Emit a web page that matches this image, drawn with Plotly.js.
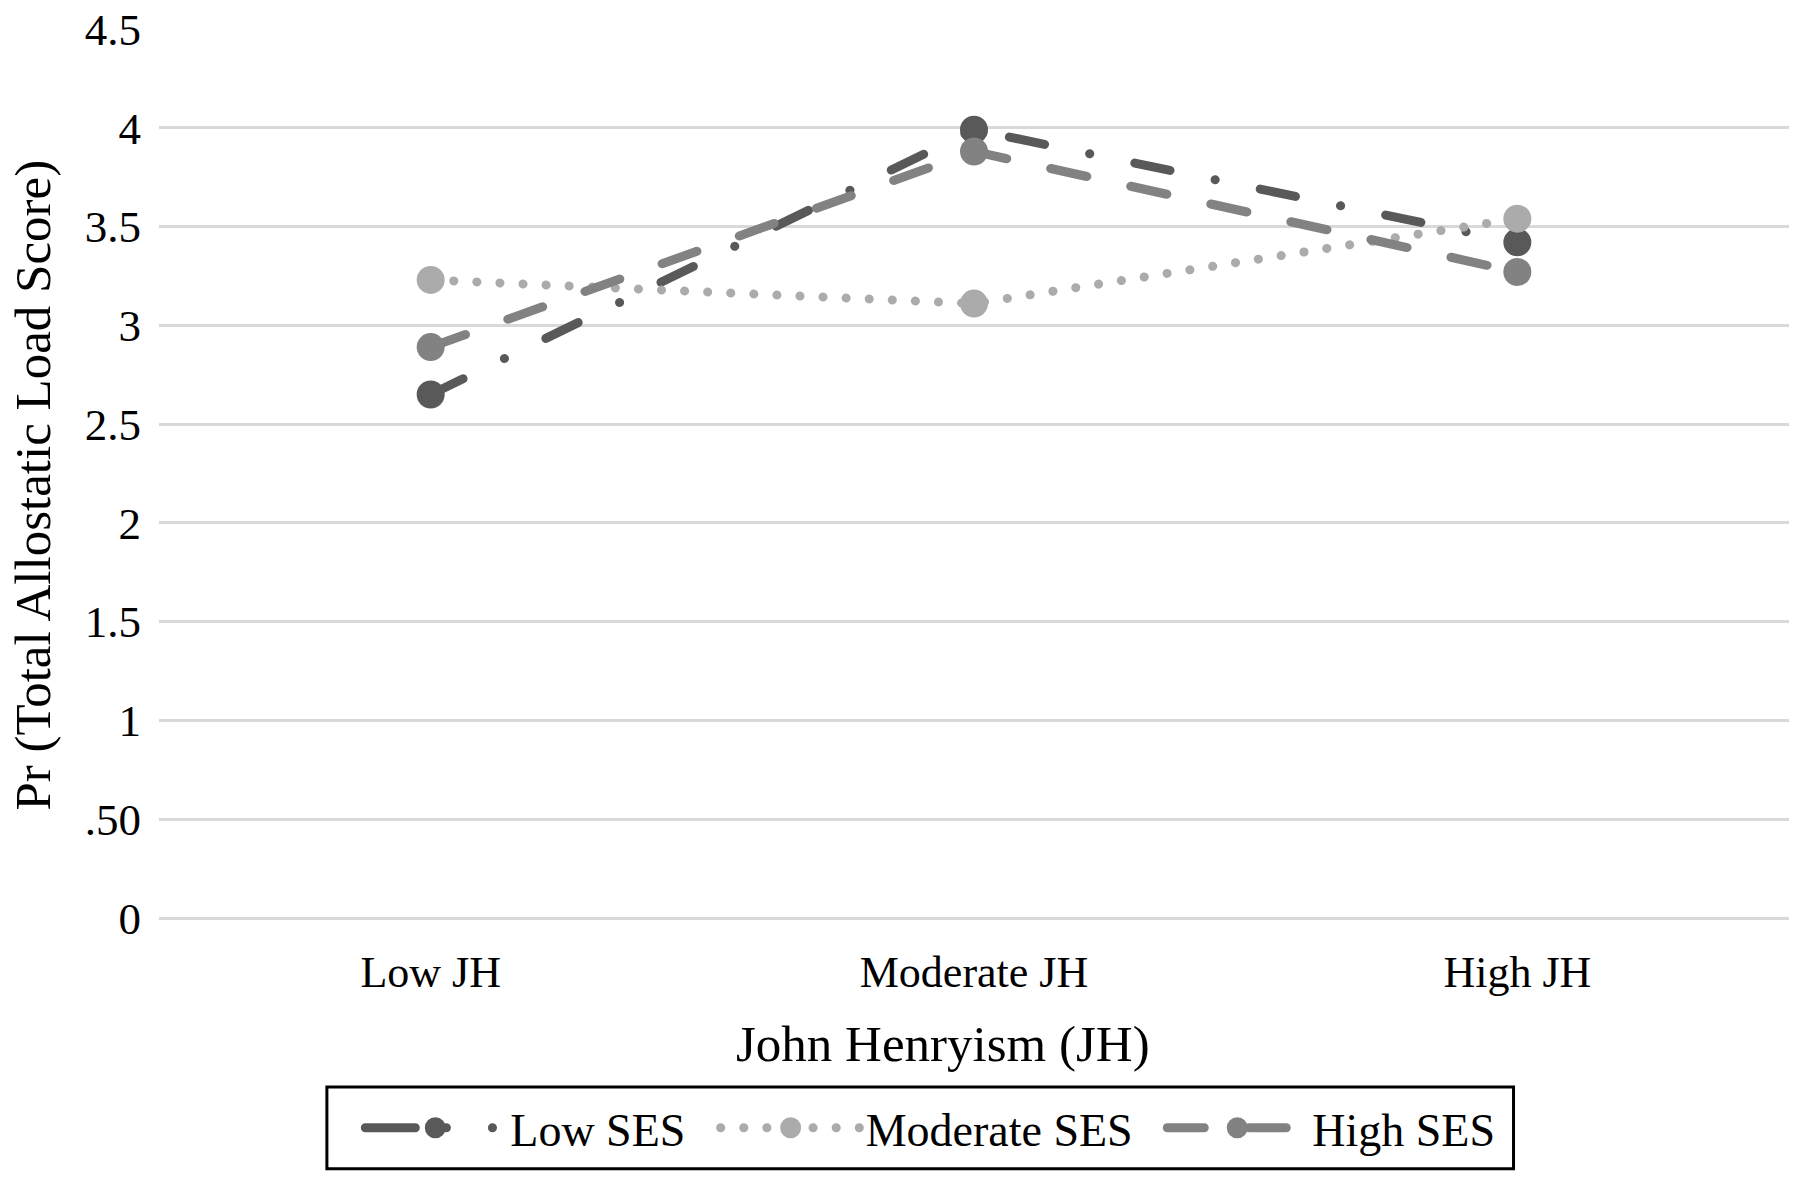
<!DOCTYPE html>
<html>
<head>
<meta charset="utf-8">
<script src="https://cdn.plot.ly/plotly-3.0.1.min.js"></script>
<style>
  html, body { margin: 0; padding: 0; background: #fff; }
  #graph { width: 1800px; height: 1182px; }
  path.js-line { stroke-linecap: round; }
  /* legend sample for Low SES: dash, marker, dot */
  g.legend path.js-line { stroke-dasharray: 50px 31px 0.1px 46px 0.1px 300px !important; }
</style>
</head>
<body>
<div id="graph"></div>
<script>
const categories = ['Low JH', 'Moderate JH', 'High JH'];
const seriesNames = ['Low SES', 'Moderate SES', 'High SES'];
const lowSES = [2.65, 3.99, 3.42];
const moderateSES = [3.23, 3.11, 3.54];
const highSES = [2.89, 3.88, 3.27];
const yTickVals = [0, 0.5, 1, 1.5, 2, 2.5, 3, 3.5, 4, 4.5];
const yTickText = ['0', '.50', '1', '1.5', '2', '2.5', '3', '3.5', '4', '4.5'];

const font = 'Liberation Serif, Times New Roman, serif';

// marker outline in the same colour makes the dots bigger, legend included
function trace(name, y, color, dash, legend) {
  return {
    x: categories,
    y: y,
    name: name,
    legend: legend,
    type: 'scatter',
    mode: 'lines+markers',
    line: { color: color, width: 9, dash: dash },
    marker: { color: color, size: 23, line: { color: color, width: 5 } }
  };
}

const data = [
  trace(seriesNames[0], lowSES, '#595959', '36px,46px,0.1px,46px', 'legend'),
  trace(seriesNames[1], moderateSES, '#ababab', '0.1px,23px', 'legend2'),
  trace(seriesNames[2], highSES, '#828282', '37px,45px', 'legend3')
];

// one legend per series so each entry sits where the original has it
function legendAt(x) {
  return {
    x: x,
    xanchor: 'left',
    y: -0.236,
    yanchor: 'middle',
    orientation: 'h',
    bgcolor: 'rgba(0,0,0,0)',
    borderwidth: 0,
    itemwidth: 140,
    font: { family: font, size: 46, color: '#000' }
  };
}

const layout = {
  width: 1800,
  height: 1182,
  paper_bgcolor: '#fff',
  plot_bgcolor: '#fff',
  font: { family: font, color: '#000', size: 44 },
  margin: { l: 159, r: 11, t: 29, b: 264 },
  showlegend: true,
  legend: legendAt(0.1235),
  legend2: legendAt(0.3415),
  legend3: legendAt(0.6155),
  shapes: [{
    type: 'rect',
    xref: 'paper', yref: 'paper',
    x0: 0.103, x1: 0.831, y0: -0.282, y1: -0.190,
    line: { color: '#000', width: 3 },
    fillcolor: 'rgba(0,0,0,0)',
    layer: 'below'
  }],
  xaxis: {
    type: 'category',
    range: [-0.5, 2.5],
    showgrid: false,
    showline: false,
    zeroline: false,
    ticks: 'outside',
    ticklen: 15,
    tickcolor: 'rgba(0,0,0,0)',
    tickfont: { family: font, size: 44, color: '#000' }
  },
  yaxis: {
    range: [0, 4.5],
    tickvals: yTickVals,
    ticktext: yTickText,
    showgrid: true,
    gridcolor: '#d9d9d9',
    gridwidth: 3,
    zeroline: true,
    zerolinecolor: '#d9d9d9',
    zerolinewidth: 3,
    showline: false,
    ticks: 'outside',
    ticklen: 8,
    tickcolor: 'rgba(0,0,0,0)',
    tickfont: { family: font, size: 45, color: '#000' }
  },
  annotations: [{
    text: 'John Henryism (JH)',
    xref: 'paper', yref: 'paper',
    x: 0.481, y: -0.142,
    xanchor: 'center', yanchor: 'middle',
    showarrow: false,
    font: { family: font, size: 51, color: '#000' }
  }, {
    text: 'Pr (Total Allostatic Load Score)',
    xref: 'paper', yref: 'paper',
    x: -0.077, y: 0.487,
    xanchor: 'center', yanchor: 'middle',
    textangle: -90,
    showarrow: false,
    font: { family: font, size: 51, color: '#000' }
  }]
};

Plotly.newPlot('graph', data, layout, { displayModeBar: false });
</script>
</body>
</html>
